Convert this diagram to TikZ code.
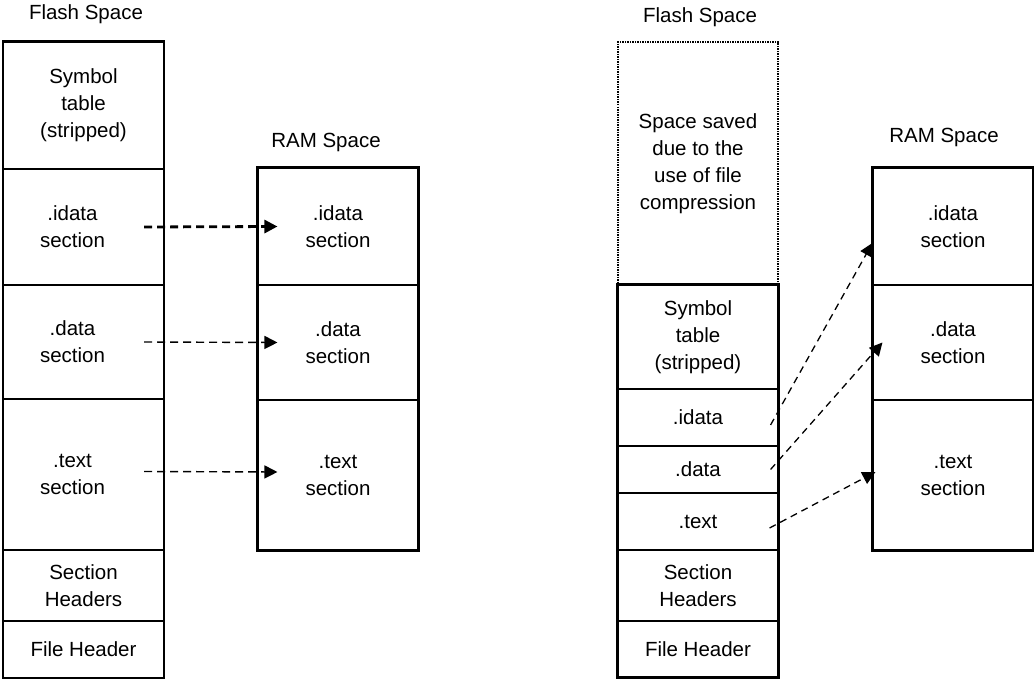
\documentclass[tikz,border=0pt]{standalone}
\usepackage{fontspec}
\setmainfont{Liberation Sans}
\usetikzlibrary{arrows.meta}

\begin{document}
\begin{tikzpicture}[x=1pt,y=-1pt,
  cell/.style={draw, rectangle, line width=1.1pt, inner sep=0pt, align=center, minimum width=160pt},
  outerbox/.style={line width=2.7pt},
  spacelabel/.style={inner sep=0pt},
  copyarrow/.style={line width=1.4pt, dash pattern=on 8pt off 5pt, -{Triangle[length=13pt,width=13pt]}}]
  \fontsize{20.5}{27}\selectfont
  \useasboundingbox (0,0) rectangle (1034,679);

  % flash space, uncompressed
  \node[spacelabel] (lflash) at (86,14) {Flash Space};
  \node[cell, minimum height=127pt] (lsym)   at (83.5,105.5) {Symbol\\table\\(stripped)};
  \node[cell, minimum height=116pt] (lidata) at (83.5,227)   {.idata\hspace*{22pt}\\section\hspace*{22pt}};
  \node[cell, minimum height=114pt] (ldata)  at (83.5,342)   {.data\hspace*{22pt}\\section\hspace*{22pt}};
  \node[cell, minimum height=151pt] (ltext)  at (83.5,474.5) {.text\hspace*{22pt}\\section\hspace*{22pt}};
  \node[cell, minimum height=71pt]  (lhead)  at (83.5,585.5) {Section\\Headers};
  \node[cell, minimum height=57pt]  (lfile)  at (83.5,649.5) {File Header};
  \draw[outerbox] (lsym.north west) rectangle (lfile.south east);

  % ram space
  \node[spacelabel] (lram) at (326,142) {RAM Space};
  \node[cell, minimum height=117pt] (aidata) at (338,226.5) {.idata\\section};
  \node[cell, minimum height=115pt] (adata)  at (338,342.5) {.data\\section};
  \node[cell, minimum height=150pt] (atext)  at (338,475)   {.text\\section};
  \draw[outerbox] (aidata.north west) rectangle (atext.south east);

  \draw[copyarrow, line width=2.8pt] ([xshift=-20pt]lidata.east) -- ([xshift=20pt]aidata.west);
  \draw[copyarrow] ([xshift=-20pt]ldata.east) -- ([xshift=20pt]adata.west);
  \draw[copyarrow] ([xshift=-20pt,yshift=3pt]ltext.east) -- ([xshift=20pt,yshift=3pt]atext.west);

  % flash space, compressed
  \node[spacelabel] (rflash) at (700,17) {Flash Space};
  \node[cell, line width=1.5pt, dash pattern=on 1.5pt off 1pt, minimum height=243pt] (rsaved) at (698,163.5) {Space saved\\due to the\\use of file\\compression};
  \node[cell, minimum height=104pt] (rsym)   at (698,337)   {Symbol\\table\\(stripped)};
  \node[cell, minimum height=57pt]  (ridata) at (698,417.5) {.idata};
  \node[cell, minimum height=47pt]  (rdata)  at (698,469.5) {.data};
  \node[cell, minimum height=57pt]  (rtext)  at (698,521.5) {.text};
  \node[cell, minimum height=71pt]  (rhead)  at (698,585.5) {Section\\Headers};
  \node[cell, minimum height=56pt]  (rfile)  at (698,649)   {File Header};
  \draw[outerbox] (rsym.north west) rectangle (rfile.south east);

  % ram space
  \node[spacelabel] (rram) at (944,137) {RAM Space};
  \node[cell, minimum height=117pt] (bidata) at (953,226.5) {.idata\\section};
  \node[cell, minimum height=115pt] (bdata)  at (953,342.5) {.data\\section};
  \node[cell, minimum height=150pt] (btext)  at (953,475)   {.text\\section};
  \draw[outerbox] (bidata.north west) rectangle (btext.south east);

  \draw[copyarrow, line width=1.3pt, dash pattern=on 7pt off 5pt] ([xshift=-8pt,yshift=-7.5pt]ridata.east) -- ([yshift=-16.5pt]bidata.west);
  \draw[copyarrow, line width=1.3pt, dash pattern=on 7pt off 5pt] ([xshift=-8pt]rdata.east) -- ([xshift=10pt]bdata.west);
  \draw[copyarrow, line width=1.3pt, dash pattern=on 7pt off 5pt] ([xshift=-9pt,yshift=-6.5pt]rtext.east) -- ([xshift=3pt,yshift=3pt]btext.west);
\end{tikzpicture}
\end{document}
